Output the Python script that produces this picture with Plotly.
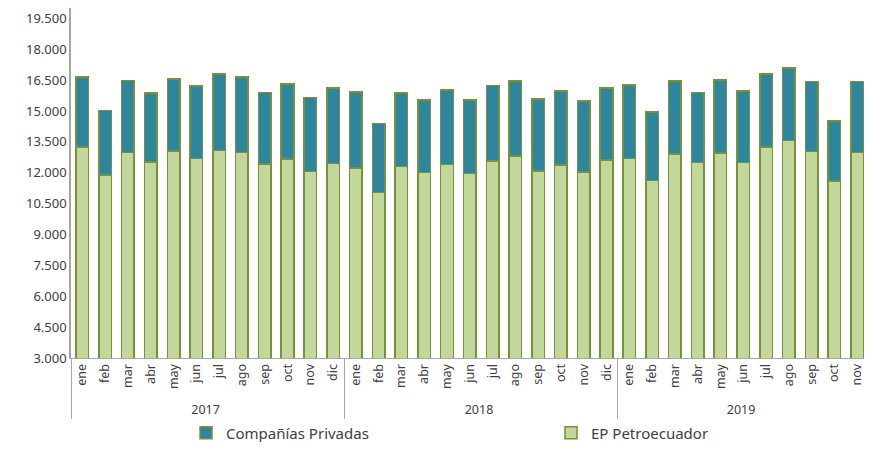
import plotly.graph_objects as go

years = ["2017"] * 12 + ["2018"] * 12 + ["2019"] * 11
months = ["ene", "feb", "mar", "abr", "may", "jun", "jul", "ago", "sep", "oct", "nov", "dic"]
month_labels = months * 2 + months[:11]

ep_petroecuador = [
    13250, 11900, 12990, 12510, 13050, 12700, 13090, 12990, 12420, 12670, 12070, 12440,
    12240, 11050, 12290, 12000, 12390, 11970, 12570, 12810, 12080, 12380, 12030, 12610,
    12680, 11630, 12920, 12490, 12960, 12490, 13250, 13570, 13020, 11600, 12990,
]
totales = [
    16640, 15010, 16480, 15870, 16560, 16210, 16800, 16640, 15900, 16300, 15660, 16120,
    15910, 14380, 15880, 15530, 16010, 15540, 16240, 16460, 15580, 15960, 15490, 16120,
    16260, 14960, 16460, 15900, 16510, 15960, 16800, 17080, 16430, 14520, 16420,
]
companias_privadas = [t - e for t, e in zip(totales, ep_petroecuador)]

y_ticks = [3000, 4500, 6000, 7500, 9000, 10500, 12000, 13500, 15000, 16500, 18000, 19500]
y_tick_text = ["3.000", "4.500", "6.000", "7.500", "9.000", "10.500", "12.000",
               "13.500", "15.000", "16.500", "18.000", "19.500"]

x = [years, month_labels]
outline = dict(color="#76923C", width=1.5)

fig = go.Figure()
fig.add_trace(go.Bar(x=x, y=ep_petroecuador, name="EP Petroecuador",
                     marker=dict(color="#C4D79B", line=outline), legend="legend2"))
fig.add_trace(go.Bar(x=x, y=companias_privadas, name="Compañías Privadas",
                     marker=dict(color="#2E869E", line=outline), legend="legend"))

font_family = "Noto Sans"
# the page adds an 8 px body margin on every side; keep the figure inside the window
W, H = 856, 434
L, R, T, B = 63, 0, 0, 84
pw = W - L - R
ph = H - T - B


def px_x(p):
    return (p - L) / pw


def px_y(p):
    return (H - B - p) / ph


legend_common = dict(orientation="h", xanchor="left", yanchor="middle",
                     font=dict(size=15, color="#404040"), bgcolor="rgba(0,0,0,0)")
fig.update_layout(
    width=W, height=H,
    barmode="stack", bargap=0.45,
    plot_bgcolor="white", paper_bgcolor="white",
    margin=dict(l=L, r=R, t=T, b=B, autoexpand=False),
    font=dict(family=font_family, size=12, color="#404040"),
    showlegend=True,
    legend=dict(x=px_x(178), y=px_y(425), **legend_common),
    legend2=dict(x=px_x(543), y=px_y(425), **legend_common),
)
fig.update_xaxes(
    type="multicategory",
    range=[-0.5, 34.3],
    automargin=False,
    tickangle=-90,
    showline=True, linecolor="#A6A6A6", linewidth=1,
    showdividers=True, dividercolor="#A6A6A6", dividerwidth=1,
    ticks="", showgrid=False,
    tickfont=dict(size=12.5, color="#404040"),
)
fig.update_yaxes(
    range=[3000, 20000],
    automargin=False,
    tickvals=y_ticks, ticktext=y_tick_text,
    showline=True, linecolor="#A6A6A6", linewidth=1.5,
    showgrid=False, zeroline=False, ticks="",
    tickfont=dict(size=13, color="#404040"),
)

fig.write_html("out.html")
